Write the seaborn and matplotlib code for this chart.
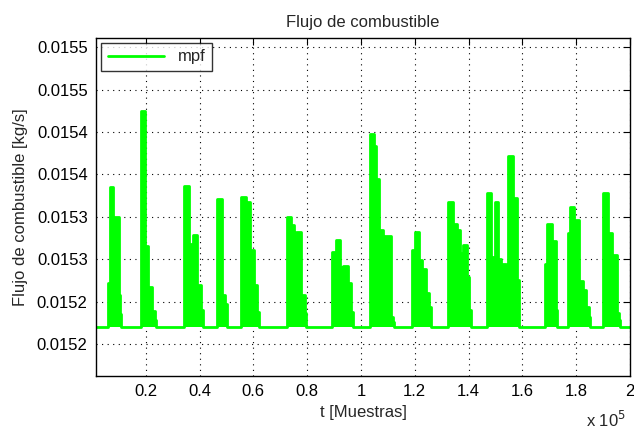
import numpy as np
import pandas as pd
import seaborn as sns
import matplotlib
matplotlib.use('Agg')
import matplotlib.pyplot as plt

# Baseline fuel flow and the start/end of the record (samples)
baseline = 0.0152195
t_start = 1500
t_end = 200000

# Each burst: step edges (samples) and the level held between consecutive edges
burst_t = [
    [6100, 6700, 7930, 9950, 10430, 10800],
    [18250, 19850, 20740, 22350, 23580, 23840],
    [34380, 36010, 37500, 38990, 40700, 41450],
    [46550, 48410, 49270, 50160, 50280],
    [55230, 57090, 58840, 60070, 61340, 62080],
    [72510, 74110, 74970, 75970, 77570, 79060, 79700],
    [89120, 90870, 92360, 93360, 95220, 96450, 97090],
    [103270, 104760, 105500, 106770, 108000, 110980, 111980, 112200],
    [118800, 119920, 121520, 122780, 124010, 125240, 125870, 126130],
    [132460, 134330, 135560, 136790, 138050, 139280, 140290, 141030],
    [146730, 148220, 149710, 150940, 152210, 153810, 154670, 156670, 158160, 158760],
    [168440, 169330, 170820, 172420, 172800],
    [177000, 177750, 179240, 179870, 181100, 182370, 183600, 184820, 185200],
    [189810, 191670, 193160, 195130, 196000, 196370],
]
burst_mpf = [
    [0.015272, 0.015385, 0.015350, 0.015258, 0.015235],
    [0.015475, 0.015315, 0.015267, 0.015239, 0.015228],
    [0.015386, 0.015318, 0.015329, 0.015270, 0.015240],
    [0.015371, 0.015258, 0.015247, 0.015232],
    [0.015373, 0.015367, 0.015311, 0.015270, 0.015238],
    [0.015350, 0.015340, 0.015325, 0.015332, 0.015258, 0.015236],
    [0.015309, 0.015323, 0.015291, 0.015292, 0.015272, 0.015238],
    [0.015448, 0.015433, 0.015395, 0.015334, 0.015327, 0.015232, 0.015226],
    [0.015311, 0.015332, 0.015299, 0.015289, 0.015260, 0.015244, 0.015230],
    [0.015367, 0.015342, 0.015335, 0.015307, 0.015317, 0.015279, 0.015240],
    [0.015378, 0.015303, 0.015367, 0.015300, 0.015294, 0.015281, 0.015422, 0.015372, 0.015276],
    [0.015294, 0.015341, 0.015322, 0.015240],
    [0.015331, 0.015362, 0.015331, 0.015346, 0.015274, 0.015264, 0.015244, 0.015232],
    [0.015378, 0.015331, 0.015305, 0.015236, 0.015228],
]

y_ticks = [0.01520, 0.01525, 0.01530, 0.01535, 0.01540, 0.01545, 0.01550, 0.01555]
y_tick_labels = ['0.0152', '0.0152', '0.0153', '0.0153', '0.0154', '0.0154', '0.0155', '0.0155']
x_ticks = [20000, 40000, 60000, 80000, 100000, 120000, 140000, 160000, 180000, 200000]
x_tick_labels = ['0.2', '0.4', '0.6', '0.8', '1', '1.2', '1.4', '1.6', '1.8', '2']

# Build the step series
t_vals = [t_start]
mpf_vals = [baseline]
for edges, levels in zip(burst_t, burst_mpf):
    t_vals.extend(edges[:-1])
    mpf_vals.extend(levels)
    t_vals.append(edges[-1])
    mpf_vals.append(baseline)
t_vals.append(t_end)
mpf_vals.append(baseline)
df = pd.DataFrame({'t': t_vals, 'mpf': mpf_vals})

sns.set_style('white')
plt.rcParams['font.family'] = ['Liberation Sans', 'DejaVu Sans']

green = '#00ff00'

fig = plt.figure(figsize=(6.34, 4.33), dpi=100)
ax = fig.add_axes([0.1514, 0.1316, 0.8423, 0.7813])

# dense signal looks like a filled area in the original
ax.fill_between(df['t'].to_numpy(), baseline, df['mpf'].to_numpy(), step='post', color=green, lw=0)
sns.lineplot(data=df, x='t', y='mpf', ax=ax, color=green, lw=2,
             drawstyle='steps-post', estimator=None, sort=False, label='mpf')

ax.set_xlim(t_start, t_end)
ax.set_ylim(0.0151623, 0.0155611)
ax.set_xticks(x_ticks)
ax.set_xticklabels(x_tick_labels)
ax.set_yticks(y_ticks)
ax.set_yticklabels(y_tick_labels)

ax.grid(True, color='black', linestyle=(0, (1, 4)), linewidth=0.8)
ax.set_axisbelow(True)
ax.tick_params(direction='in', length=5, width=0.8, top=True, right=True,
               labelsize=12, colors='black', pad=6)
for s in ax.spines.values():
    s.set_visible(True)
    s.set_color('black')
    s.set_linewidth(1.0)

ax.set_title('Flujo de combustible', fontsize=12, pad=8)
ax.set_xlabel('t [Muestras]', fontsize=12, labelpad=4)
ax.set_ylabel('Flujo de combustible [kg/s]', fontsize=12, labelpad=6)
fig.text(0.988, 0.006, r'x 10$^5$', ha='right', va='bottom', fontsize=12)

leg = ax.legend(loc='upper left', fontsize=12, frameon=True, fancybox=False,
                edgecolor='black', handlelength=3.4, borderaxespad=0.3)
leg.get_frame().set_linewidth(1.0)

fig.savefig('out.png', dpi=100)
